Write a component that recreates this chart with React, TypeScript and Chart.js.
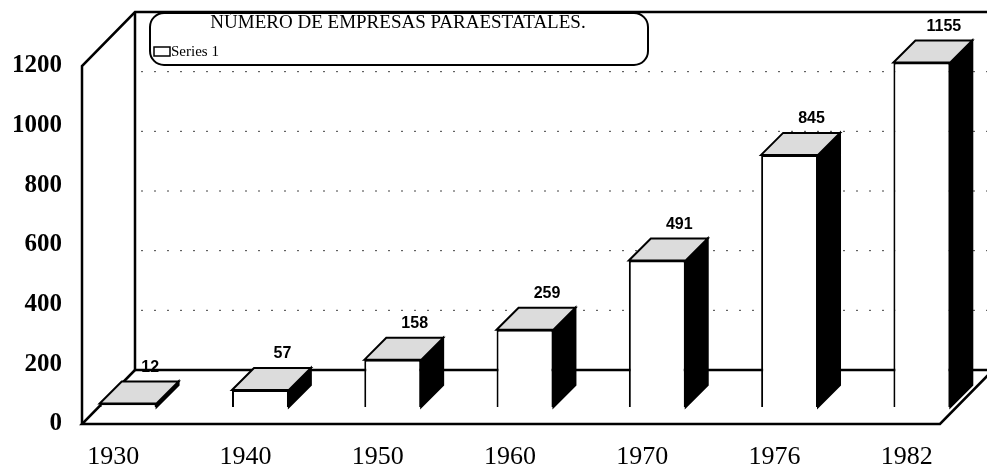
import React, { useEffect, useRef } from 'react';
import { Chart, registerables } from 'chart.js';

Chart.register(...registerables);

// ---- data ----
const TITLE = 'NÚMERO DE EMPRESAS PARAESTATALES.';
const SERIES_LABEL = 'Series 1';
const YEARS = ['1930', '1940', '1950', '1960', '1970', '1976', '1982'];
const EMPRESAS = [12, 57, 158, 259, 491, 845, 1155];
const Y_MIN = 0;
const Y_MAX = 1200;
const Y_STEP = 200;

// ---- layout constants ----
const W = 987;
const H = 467;
const WALL_DX = 53;
const WALL_DY = 54;
const BAR_SHIFT_X = 15;
const BAR_SHIFT_Y = 17;
const BAR_DEPTH = 22;
const FRAME_LEFT = 82;
const FLOOR_RIGHT = 940;

const threeD = {
  id: 'threeD',
  beforeDatasetsDraw(chart: any) {
    const { ctx } = chart;
    const y = chart.scales.y;
    const y0 = y.getPixelForValue(Y_MIN);
    const yTop = y.getPixelForValue(Y_MAX);
    const bx = FRAME_LEFT + WALL_DX;
    const rightBack = FLOOR_RIGHT + WALL_DX;
    ctx.save();
    // dotted back-wall gridlines
    ctx.setLineDash([2, 11]);
    ctx.lineWidth = 1;
    ctx.strokeStyle = '#444';
    for (let v = Y_MIN + Y_STEP; v < Y_MAX; v += Y_STEP) {
      const yy = y.getPixelForValue(v) - WALL_DY;
      ctx.beginPath();
      ctx.moveTo(bx + 6, yy);
      ctx.lineTo(W, yy);
      ctx.stroke();
    }
    ctx.setLineDash([]);
    ctx.strokeStyle = '#000';
    ctx.lineWidth = 2.5;
    ctx.lineJoin = 'miter';
    // left wall + back top
    ctx.beginPath();
    ctx.moveTo(FRAME_LEFT, y0);
    ctx.lineTo(FRAME_LEFT, yTop);
    ctx.lineTo(bx, yTop - WALL_DY);
    ctx.lineTo(W + 10, yTop - WALL_DY);
    ctx.stroke();
    // back-left vertical
    ctx.beginPath();
    ctx.moveTo(bx, yTop - WALL_DY);
    ctx.lineTo(bx, y0 - WALL_DY);
    ctx.stroke();
    // floor
    ctx.beginPath();
    ctx.moveTo(bx, y0 - WALL_DY);
    ctx.lineTo(rightBack, y0 - WALL_DY);
    ctx.stroke();
    ctx.beginPath();
    ctx.moveTo(bx, y0 - WALL_DY);
    ctx.lineTo(FRAME_LEFT, y0);
    ctx.lineTo(FLOOR_RIGHT, y0);
    ctx.lineTo(rightBack, y0 - WALL_DY);
    ctx.stroke();
    ctx.restore();
  },
  beforeDatasetDraw(chart: any) {
    const { ctx } = chart;
    ctx.save();
    ctx.translate(BAR_SHIFT_X, -BAR_SHIFT_Y);
  },
  afterDatasetDraw(chart: any, args: any) {
    const { ctx } = chart;
    const meta = args.meta;
    const values = chart.data.datasets[args.index].data;
    meta.data.forEach((bar: any, i: number) => {
      const { x, y, base, width } = bar.getProps(['x', 'y', 'base', 'width'], true);
      const l = x - width / 2;
      const r = x + width / 2;
      const d = BAR_DEPTH;
      ctx.lineWidth = 2;
      ctx.strokeStyle = '#000';
      ctx.lineJoin = 'miter';
      // side face
      ctx.beginPath();
      ctx.moveTo(r, y);
      ctx.lineTo(r + d, y - d);
      ctx.lineTo(r + d, base - d);
      ctx.lineTo(r, base);
      ctx.closePath();
      ctx.fillStyle = '#000';
      ctx.fill();
      ctx.stroke();
      // top face
      ctx.beginPath();
      ctx.moveTo(l, y);
      ctx.lineTo(l + d, y - d);
      ctx.lineTo(r + d, y - d);
      ctx.lineTo(r, y);
      ctx.closePath();
      ctx.fillStyle = '#dcdcdc';
      ctx.fill();
      ctx.stroke();
      // value label
      ctx.fillStyle = '#000';
      ctx.font = 'bold 16px "Liberation Sans", Arial, sans-serif';
      ctx.textAlign = 'center';
      ctx.textBaseline = 'middle';
      ctx.fillText(String(values[i]), x + d, y - d - 14);
    });
    ctx.restore();
  },
  afterDraw(chart: any) {
    const { ctx } = chart;
    ctx.save();
    // legend / title box
    ctx.beginPath();
    (ctx as any).roundRect(150, 13, 498, 52, 14);
    ctx.fillStyle = '#fff';
    ctx.fill();
    ctx.lineWidth = 2;
    ctx.strokeStyle = '#000';
    ctx.stroke();
    ctx.fillStyle = '#000';
    ctx.font = '19px "Liberation Serif", "Times New Roman", serif';
    ctx.textAlign = 'center';
    ctx.textBaseline = 'middle';
    ctx.fillText(TITLE, 398, 23);
    // legend marker
    ctx.lineWidth = 1.5;
    ctx.strokeRect(154, 47, 16, 9);
    ctx.font = '15px "Liberation Serif", "Times New Roman", serif';
    ctx.textAlign = 'left';
    ctx.fillText(chart.data.datasets[0].label, 171, 52);
    ctx.restore();
  },
};

export default function App() {
  const ref = useRef<HTMLCanvasElement | null>(null);
  useEffect(() => {
    document.body.style.margin = '0';
    const canvas = ref.current;
    if (!canvas) return;
    const chart = new Chart(canvas, {
      type: 'bar',
      data: {
        labels: YEARS,
        datasets: [
          {
            label: SERIES_LABEL,
            data: EMPRESAS,
            backgroundColor: '#ffffff',
            borderColor: '#000000',
            borderWidth: 2,
            categoryPercentage: 1,
            barPercentage: 0.43,
            clip: false as any,
          },
        ],
      },
      options: {
        responsive: false,
        animation: false,
        devicePixelRatio: 1,
        layout: { padding: { top: 66, right: 14, bottom: 0, left: 47 } },
        plugins: {
          legend: { display: false },
          title: { display: false },
          tooltip: { enabled: false },
        },
        scales: {
          x: {
            type: 'category',
            offset: true,
            grid: { display: false, drawTicks: false },
            border: { display: false },
            ticks: {
              color: '#000',
              padding: 18,
              font: { family: '"Liberation Serif", "Times New Roman", serif', size: 26 },
            },
            afterFit: (s: any) => {
              s.height = 43;
            },
          },
          y: {
            min: Y_MIN,
            max: Y_MAX,
            grid: { display: false, drawTicks: false },
            border: { display: false },
            ticks: {
              stepSize: Y_STEP,
              color: '#000',
              mirror: true,
              crossAlign: 'far',
              padding: -35,
              callback: (v: any) => String(v),
              font: { family: '"Liberation Serif", "Times New Roman", serif', size: 25, weight: 'bold' },
            },
            afterFit: (s: any) => {
              s.width = 0;
            },
          },
        },
      },
      plugins: [threeD],
    });
    return () => chart.destroy();
  }, []);
  return <canvas ref={ref} width={W} height={H} style={{ display: 'block' }} />;
}
